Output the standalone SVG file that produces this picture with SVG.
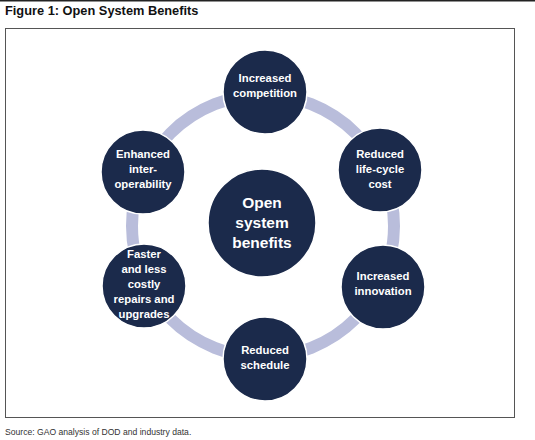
<svg xmlns="http://www.w3.org/2000/svg" width="535" height="440" viewBox="0 0 535 440">
<style>
.node{fill:#1b2a4b;stroke:#ffffff;stroke-width:1.5}
.lbl{font-family:"Liberation Sans",Arial,sans-serif;font-weight:bold;font-size:11.3px;fill:#ffffff;text-anchor:middle}
.big{font-size:15.5px}
</style>
<rect x="0" y="0" width="535" height="440" fill="#ffffff"/>
<line x1="0" y1="0.75" x2="535" y2="0.75" stroke="#222" stroke-width="1.5"/>
<text x="5" y="15" font-family="Liberation Sans,Arial,sans-serif" font-weight="bold" font-size="12.8" fill="#111">Figure 1: Open System Benefits</text>
<rect x="5.5" y="28.5" width="509" height="389" fill="none" stroke="#555" stroke-width="1"/>
<g id="connectors">
<circle cx="263" cy="226" r="131" fill="none" stroke="#b9bddb" stroke-width="12"/>
</g>
<g id="center">
<circle class="node" cx="262" cy="223" r="54"/>
<text class="lbl big" x="262" y="208">Open</text>
<text class="lbl big" x="262" y="228">system</text>
<text class="lbl big" x="262" y="248">benefits</text>
</g>
<g id="n1">
<circle class="node" cx="265" cy="92" r="42"/>
<text class="lbl" x="265" y="82">Increased</text>
<text class="lbl" x="265" y="97">competition</text>
</g>
<g id="n2">
<circle class="node" cx="380" cy="170" r="42"/>
<text class="lbl" x="380" y="158">Reduced</text>
<text class="lbl" x="380" y="173">life-cycle</text>
<text class="lbl" x="380" y="188">cost</text>
</g>
<g id="n3">
<circle class="node" cx="383" cy="287" r="42"/>
<text class="lbl" x="383" y="280">Increased</text>
<text class="lbl" x="383" y="295">innovation</text>
</g>
<g id="n4">
<circle class="node" cx="265" cy="359" r="42"/>
<text class="lbl" x="265" y="354">Reduced</text>
<text class="lbl" x="265" y="369">schedule</text>
</g>
<g id="n5">
<circle class="node" cx="144" cy="286" r="42"/>
<text class="lbl" x="144" y="258">Faster</text>
<text class="lbl" x="144" y="273">and less</text>
<text class="lbl" x="144" y="288">costly</text>
<text class="lbl" x="144" y="303">repairs and</text>
<text class="lbl" x="144" y="318">upgrades</text>
</g>
<g id="n6">
<circle class="node" cx="143" cy="172" r="42"/>
<text class="lbl" x="143" y="158">Enhanced</text>
<text class="lbl" x="143" y="173">inter-</text>
<text class="lbl" x="143" y="188">operability</text>
</g>
<text x="5" y="435" font-family="Liberation Sans,Arial,sans-serif" font-size="8.6" fill="#333">Source: GAO analysis of DOD and industry data.</text>
</svg>
